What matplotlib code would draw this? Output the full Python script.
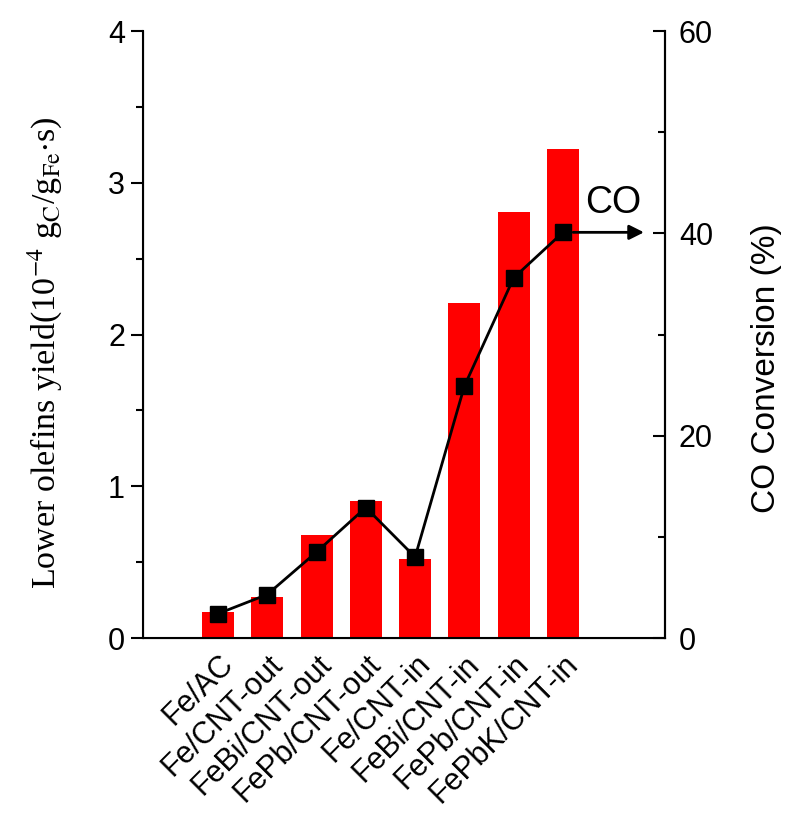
import matplotlib.pyplot as plt
from matplotlib.ticker import MultipleLocator

catalysts = ["Fe/AC", "Fe/CNT-out", "FeBi/CNT-out", "FePb/CNT-out",
             "Fe/CNT-in", "FeBi/CNT-in", "FePb/CNT-in", "FePbK/CNT-in"]
olefin_yield = [0.17, 0.27, 0.68, 0.90, 0.52, 2.21, 2.81, 3.22]
co_conversion = [2.4, 4.3, 8.5, 12.9, 8.0, 24.9, 35.6, 40.1]

plt.rcParams["font.family"] = ["Liberation Sans", "DejaVu Sans"]
plt.rcParams["mathtext.fontset"] = "stix"

fig = plt.figure(figsize=(7.88, 8.14), dpi=100)
ax = fig.add_axes([0.1815, 0.2162, 0.6624, 0.7457])
x = list(range(len(catalysts)))

ax.bar(x, olefin_yield, width=0.65, color="#ff0000", zorder=1)
ax.set_ylim(0, 4)
ax.set_xlim(-1.52, 9.07)
ax.yaxis.set_major_locator(MultipleLocator(1))
ax.yaxis.set_minor_locator(MultipleLocator(0.5))
ax.tick_params(axis="y", which="major", direction="out", length=9, width=1.5, labelsize=22, pad=4)
ax.tick_params(axis="y", which="minor", direction="out", length=5, width=1.5)
ax.set_xticks(x)
ax.set_xticklabels(catalysts, rotation=45, ha="right", rotation_mode="anchor", fontsize=22)
ax.tick_params(axis="x", length=0, pad=8)
ax.set_ylabel(r"Lower olefins yield(10$^{-4}$ g$_{\rm C}$/g$_{\rm Fe}$$\cdot$s)",
              family="Liberation Serif", fontsize=24.5, labelpad=31)
ax.yaxis.label.set_y(0.47)
ax.spines["top"].set_visible(False)
for s in ["left", "bottom", "right"]:
    ax.spines[s].set_linewidth(1.5)

ax2 = ax.twinx()
ax2.plot(x, co_conversion, color="black", lw=2, marker="s", markersize=12, zorder=3)
ax2.set_ylim(0, 60)
ax2.yaxis.set_major_locator(MultipleLocator(20))
ax2.yaxis.set_minor_locator(MultipleLocator(10))
ax2.tick_params(axis="y", which="major", direction="in", length=9, width=1.5, labelsize=22, pad=10)
ax2.tick_params(axis="y", which="minor", direction="in", length=5, width=1.5)
ax2.set_ylabel("CO Conversion (%)", fontsize=24, labelpad=27)
ax2.yaxis.label.set_y(0.445)
ax2.spines["top"].set_visible(False)
ax2.spines["right"].set_linewidth(1.5)

ax2.annotate("", xy=(8.7, co_conversion[-1]), xytext=(7.15, co_conversion[-1]),
             arrowprops=dict(arrowstyle="-|>", color="black", lw=2, mutation_scale=22))
ax2.text(7.45, 43.0, "CO", fontsize=27, va="center", ha="left")

fig.savefig("out.png", dpi=100)
